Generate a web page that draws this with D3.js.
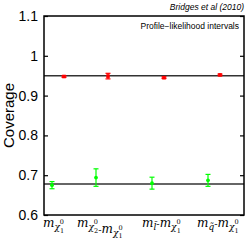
<!DOCTYPE html>
<html>
<head>
<meta charset="utf-8">
<script src="https://cdn.jsdelivr.net/npm/d3@7"></script>
<style>
  body { margin: 0; background: #fff; }
  svg { display: block; }
</style>
</head>
<body>
<script>
const width = 249;
const height = 244;

// data
const yTicks = [0.6, 0.7, 0.8, 0.9, 1, 1.1];
const yTickLabels = ['0.6', '0.7', '0.8', '0.9', '1', '1.1'];
const redX = [0.9, 1.78, 2.9, 4.02];
const redY = [0.948, 0.949, 0.945, 0.952];
const redErr = [0.002, 0.007, 0.002, 0.002];
const greenX = [0.66, 1.54, 2.66, 3.78];
const greenY = [0.675, 0.694, 0.680, 0.687];
const greenErr = [0.009, 0.022, 0.015, 0.015];
const refLines = [0.95, 0.678];
const labelX = [0.48, 1.16, 2.46, 3.56];  // left edge of each label

const margin = {top: 16, right: 5, bottom: 29, left: 44};

const svg = d3.select('body')
  .append('svg')
    .attr('width', width)
    .attr('height', height);

const x = d3.scaleLinear()
  .domain([0.5, 4.5])
  .range([margin.left, width - margin.right]);

const y = d3.scaleLinear()
  .domain([0.6, 1.1])
  .range([height - margin.bottom, margin.top]);

// y axis left (ticks inside) and right
svg.append('g')
  .attr('transform', `translate(${margin.left},0)`)
  .call(d3.axisLeft(y).tickValues(yTicks).tickSize(-4).tickPadding(6)
    .tickFormat((d, i) => yTickLabels[i]))
  .call(g => g.select('.domain').remove())
  .call(g => g.selectAll('line').attr('stroke', '#000').attr('stroke-width', 1.2))
  .call(g => g.selectAll('text')
    .attr('font-family', 'Liberation Sans, Arial, sans-serif')
    .attr('font-size', 14)
    .attr('fill', '#000'));

svg.append('g')
  .attr('transform', `translate(${width - margin.right},0)`)
  .call(d3.axisRight(y).tickValues(yTicks).tickSize(-4).tickFormat(''))
  .call(g => g.select('.domain').remove())
  .call(g => g.selectAll('line').attr('stroke', '#000').attr('stroke-width', 1.2));

// reference lines
svg.selectAll('line.ref')
  .data(refLines)
  .enter()
  .append('line')
    .attr('class', 'ref')
    .attr('x1', margin.left)
    .attr('x2', width - margin.right)
    .attr('y1', d => y(d))
    .attr('y2', d => y(d))
    .attr('stroke', '#333')
    .attr('stroke-width', 1.5);

// error bars
const drawSeries = (xs, ys, es, color, square) => {
  const pts = xs.map((v, i) => ({x: v, y: ys[i], e: es[i]}));
  const g = svg.append('g');
  const bar = g.selectAll('g')
    .data(pts)
    .enter()
    .append('g')
      .attr('stroke', color)
      .attr('stroke-width', 1.2);
  bar.append('line')
    .attr('x1', d => x(d.x)).attr('x2', d => x(d.x))
    .attr('y1', d => y(d.y - d.e)).attr('y2', d => y(d.y + d.e));
  bar.append('line')
    .attr('x1', d => x(d.x) - 2.5).attr('x2', d => x(d.x) + 2.5)
    .attr('y1', d => y(d.y - d.e)).attr('y2', d => y(d.y - d.e));
  bar.append('line')
    .attr('x1', d => x(d.x) - 2.5).attr('x2', d => x(d.x) + 2.5)
    .attr('y1', d => y(d.y + d.e)).attr('y2', d => y(d.y + d.e));
  if (square) {
    g.selectAll('rect')
      .data(pts)
      .enter()
      .append('rect')
        .attr('x', d => x(d.x) - 1.8)
        .attr('y', d => y(d.y) - 1.8)
        .attr('width', 3.6)
        .attr('height', 3.6)
        .attr('fill', color);
  } else {
    g.selectAll('circle')
      .data(pts)
      .enter()
      .append('circle')
        .attr('cx', d => x(d.x))
        .attr('cy', d => y(d.y))
        .attr('r', 1.9)
        .attr('fill', color);
  }
};

drawSeries(redX, redY, redErr, '#ff0000', true);
drawSeries(greenX, greenY, greenErr, '#00ff00', false);

// frame
svg.append('rect')
  .attr('x', margin.left)
  .attr('y', margin.top)
  .attr('width', width - margin.left - margin.right)
  .attr('height', height - margin.top - margin.bottom)
  .attr('fill', 'none')
  .attr('stroke', '#000')
  .attr('stroke-width', 1.5);

// x tick labels in math style
const mSub = (t, sub) => {
  t.append('tspan').attr('font-style', 'italic').text('m');
  t.append('tspan').attr('font-style', 'italic').attr('font-size', 9).attr('dy', 3).text(sub);
};
const chi = (t, n) => {
  t.append('tspan').attr('font-style', 'italic').text('m');
  t.append('tspan').attr('font-style', 'italic').attr('font-size', 9).attr('dy', 3).text('χ');
  t.append('tspan').attr('font-size', 6.5).attr('dy', -6).text('0');
  t.append('tspan').attr('font-size', 6.5).attr('dx', -4).attr('dy', 8.5).text(n);
  t.append('tspan').attr('dy', -5.5).text('');
};
const dash = (t, dy) => {
  t.append('tspan').attr('font-size', 10).attr('dy', dy).text('-');
};

const xLabels = [
  (t) => { chi(t, '1'); },
  (t) => { chi(t, '2'); dash(t, 0); chi(t, '1'); },
  (t) => { mSub(t, 'l̃'); dash(t, -3); chi(t, '1'); },
  (t) => { mSub(t, 'q̃'); dash(t, -3); chi(t, '1'); }
];

svg.append('g')
  .selectAll('text')
  .data(labelX)
  .enter()
  .append('text')
    .attr('x', d => x(d))
    .attr('y', 227)
    .attr('font-family', 'DejaVu Serif, serif')
    .attr('font-size', 12)
    .attr('fill', '#000')
    .each(function (d, i) { xLabels[i](d3.select(this)); });

// y axis title
svg.append('text')
  .attr('transform', `translate(14,${(margin.top + height - margin.bottom) / 2}) rotate(-90)`)
  .attr('text-anchor', 'middle')
  .attr('font-family', 'Liberation Sans, Arial, sans-serif')
  .attr('font-size', 15)
  .text('Coverage');

// annotations
svg.append('text')
  .attr('x', 244)
  .attr('y', 10)
  .attr('text-anchor', 'end')
  .attr('font-family', 'Liberation Sans, Arial, sans-serif')
  .attr('font-style', 'italic')
  .attr('font-size', 8.5)
  .text('Bridges et al (2010)');

svg.append('text')
  .attr('x', 239)
  .attr('y', 29)
  .attr('text-anchor', 'end')
  .attr('font-family', 'Liberation Sans, Arial, sans-serif')
  .attr('font-size', 8.5)
  .text('Profile−likelihood intervals');
</script>
</body>
</html>
